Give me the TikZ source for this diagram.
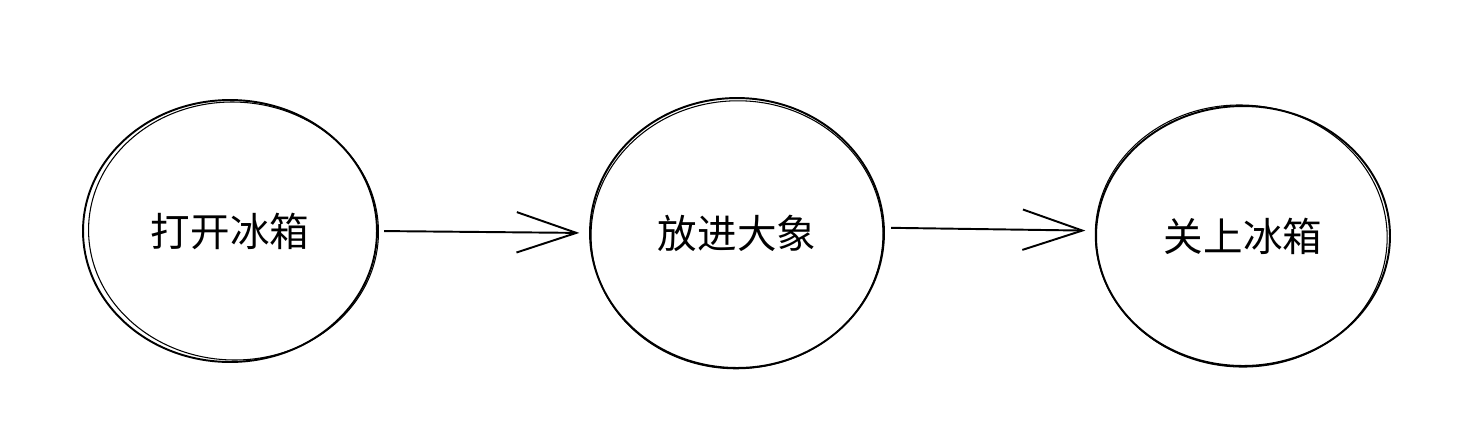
\documentclass[tikz,border=0pt]{standalone}
\usepackage{fontspec}
\newfontfamily\cjk{Noto Sans CJK SC}
\usetikzlibrary{positioning,arrows.meta,shapes.geometric}

\begin{document}
\begin{tikzpicture}[x=0.02cm,y=-0.02cm,
  every node/.style={font=\cjk\fontsize{22.5}{26}\selectfont},
  stage/.style={shape=ellipse,draw,line width=1.1pt,inner sep=0pt,
    minimum width=5.88cm,minimum height=5.24cm},
  retrace/.style={line width=0.6pt},
  flow/.style={line width=1.1pt,-{Straight Barb[length=34pt,width=23pt,line width=1.1pt]},
    shorten <=3.5pt,shorten >=5.5pt}
]
\useasboundingbox (0,0) rectangle (1468,424);

% the three steps
\node[stage] (open) at (230,231) {打开冰箱};
\node[stage,minimum height=5.4cm] (put) at (737,233) {放进大象};
\node[stage,minimum height=5.2cm] (close) at (1243,236) {关上冰箱};

% second pencil stroke round each step
\draw[retrace] ([xshift=2pt]open.center) ellipse [x radius=2.9cm,y radius=2.58cm,rotate=-2];
\draw[retrace] ([yshift=-1pt]put.center) ellipse [x radius=2.92cm,y radius=2.68cm,rotate=2];
\draw[retrace] ([xshift=-1pt]close.center) ellipse [x radius=2.92cm,y radius=2.62cm,rotate=-3];

% arrows
\draw[flow] (open.east) -- (put.west);
\draw[flow] ([yshift=3pt]put.east) -- ([yshift=3pt]close.west);
\end{tikzpicture}
\end{document}
